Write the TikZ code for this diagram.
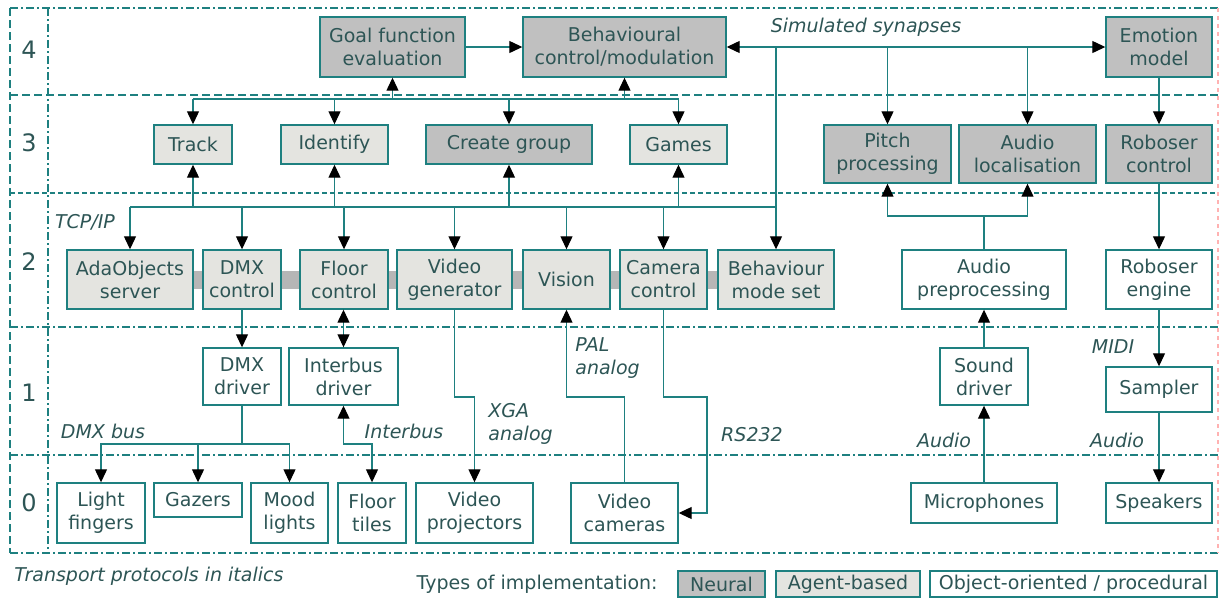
\documentclass[tikz,border=0pt]{standalone}
\usepackage{fontspec}
\setmainfont{DejaVu Sans}
\usepackage{tikz}
\usetikzlibrary{arrows.meta, positioning, backgrounds}
\usepackage{xcolor}
\definecolor{linecol}{RGB}{30,128,128}
\definecolor{textcol}{RGB}{45,85,85}
\definecolor{neuralfill}{RGB}{192,192,192}
\definecolor{agentfill}{RGB}{228,228,224}
\definecolor{busfill}{RGB}{182,182,182}
\tikzset{%
	every box/.style={
		draw=linecol,
		line width=0.7pt,
		align=center,
		inner sep=1pt,
		text=textcol,
		font=\fontsize{9.5}{11.5}\selectfont
	},
	neural box/.style={every box, fill=neuralfill},
	agent box/.style={every box, fill=agentfill},
	object box/.style={every box, fill=white},
	boxsize/.style 2 args={minimum width=#1*0.5pt, minimum height=#2*0.5pt},
	link/.style={draw=linecol, line width=0.6pt},
	to box/.style={link, -{Triangle[length=6.5pt,width=6pt,color=black]}},
	both boxes/.style={link, {Triangle[length=6.5pt,width=6pt,color=black]}-{Triangle[length=6.5pt,width=6pt,color=black]}},
	bus/.style={draw=busfill, line width=9pt},
	protocol/.style={text=textcol, font=\fontsize{9.5}{11.5}\selectfont\itshape, align=left, inner sep=1pt},
	plain text/.style={text=textcol, font=\fontsize{9.5}{11.5}\selectfont, inner sep=1pt},
	level/.style={text=textcol, font=\fontsize{12}{14}\selectfont},
	frame line/.style={draw=linecol, line width=0.6pt, dash pattern=on 4pt off 1.5pt on 1pt off 1.5pt},
	level line/.style={draw=linecol, line width=0.6pt, dash pattern=on 4pt off 2pt},
	fine line/.style={draw=linecol, line width=0.6pt, dash pattern=on 2.5pt off 1.5pt},
}

\begin{document}
\begin{tikzpicture}[x=0.5pt, y=-0.5pt]
	\useasboundingbox (0,0) rectangle (1221,600);
	
	% Draw the frame and the levels
	\draw[frame line] (10,8) -- (1218,8);
	\draw[frame line] (10,553) -- (1218,553);
	\draw[level line] (10,8) -- (10,553);
	\draw[draw=red!30, line width=0.6pt, dash pattern=on 2pt off 2pt] (1218,8) -- (1218,553);
	\draw[frame line] (48,8) -- (48,553);
	\draw[level line] (10,95) -- (1218,95);
	\draw[fine line] (10,193) -- (1218,193);
	\draw[frame line] (10,327) -- (1218,327);
	\draw[frame line] (10,455) -- (1218,455);
	\foreach \lv/\y in {4/50,3/143,2/262,1/393,0/503}
		\node[level] (lev\lv) at (29,\y) {\lv};
	
	% Level 4
	\node[neural box, boxsize={145}{60}] (goal) at (392.5,47) {Goal function\\evaluation};
	\node[neural box, boxsize={203}{60}] (behav) at (624.5,47) {Behavioural\\control/modulation};
	\node[neural box, boxsize={106}{60}] (emotion) at (1159,47) {Emotion\\model};
	
	% Level 3
	\node[agent box, boxsize={78}{39}] (track) at (193,144.5) {Track};
	\node[agent box, boxsize={107}{39}] (identify) at (334.5,144.5) {Identify};
	\node[neural box, boxsize={166}{39}] (cgroup) at (509,144.5) {Create group};
	\node[agent box, boxsize={97}{39}] (games) at (678.5,144.5) {Games};
	\node[neural box, boxsize={127}{58}] (pitch) at (887.5,154) {Pitch\\processing};
	\node[neural box, boxsize={137}{58}] (audioloc) at (1027.5,154) {Audio\\localisation};
	\node[neural box, boxsize={106}{58}] (robctl) at (1159,154) {Roboser\\control};
	
	% Level 2
	\node[agent box, boxsize={126}{59}] (ada) at (130,279.5) {AdaObjects\\server};
	\node[agent box, boxsize={78}{59}] (dmxctl) at (242,279.5) {DMX\\control};
	\node[agent box, boxsize={88}{59}] (floorctl) at (344,279.5) {Floor\\control};
	\node[agent box, boxsize={115}{59}] (videogen) at (454.5,279.5) {Video\\generator};
	\node[agent box, boxsize={87}{59}] (vision) at (566.5,279.5) {Vision};
	\node[agent box, boxsize={87}{59}] (camctl) at (663.5,279.5) {Camera\\control};
	\node[agent box, boxsize={116}{59}] (bmode) at (776,279.5) {Behaviour\\mode set};
	\node[object box, boxsize={164}{59}] (audiopre) at (984,279.5) {Audio\\preprocessing};
	\node[object box, boxsize={106}{59}] (robeng) at (1159,279.5) {Roboser\\engine};
	\begin{scope}[on background layer]
		\draw[bus] (ada) -- (bmode);
	\end{scope}
	
	% Level 1
	\node[object box, boxsize={78}{57}] (dmxdrv) at (242,376.5) {DMX\\driver};
	\node[object box, boxsize={109}{57}] (ibdrv) at (343.5,376.5) {Interbus\\driver};
	\node[object box, boxsize={88}{57}] (sounddrv) at (984,376.5) {Sound\\driver};
	\node[object box, boxsize={106}{45}] (sampler) at (1159,389.5) {Sampler};
	
	% Level 0
	\node[object box, boxsize={88}{60}] (lfingers) at (101,513) {Light\\fingers};
	\node[object box, boxsize={88}{34}] (gazers) at (198,500) {Gazers};
	\node[object box, boxsize={77}{60}] (mood) at (289.5,513) {Mood\\lights};
	\node[object box, boxsize={68}{60}] (ftiles) at (372,513) {Floor\\tiles};
	\node[object box, boxsize={117}{60}] (vproj) at (474.5,513) {Video\\projectors};
	\node[object box, boxsize={107}{60}] (vcam) at (624.5,513) {Video\\cameras};
	\node[object box, boxsize={146}{40}] (mics) at (984,503) {Microphones};
	\node[object box, boxsize={106}{40}] (speakers) at (1159,503) {Speakers};
	
	% Simulated synapses
	\draw[to box] (goal) -- (behav);
	\draw[both boxes] (behav) -- (emotion);
	\coordinate (syn) at (776,47);
	\draw[to box] (syn) -- (bmode);
	\draw[to box] (pitch |- syn) -- (pitch);
	\draw[to box] (audioloc |- syn) -- (audioloc);
	\draw[to box] (emotion) -- (robctl);
	
	% Between level 3 and level 4
	\coordinate (bus3) at (0,99);
	\draw[link] (track |- bus3) -- (games |- bus3);
	\foreach \n in {track,identify,cgroup,games}
		\draw[to box] (\n |- bus3) -- (\n);
	\draw[to box] (goal |- bus3) -- (goal);
	\draw[to box] (behav |- bus3) -- (behav);
	
	% TCP/IP
	\coordinate (bus2) at (0,207);
	\draw[link] (ada |- bus2) -- (bmode |- bus2);
	\foreach \n in {track,identify,cgroup,games}
		\draw[to box] (\n |- bus2) -- (\n);
	\foreach \n in {ada,dmxctl,floorctl,videogen,vision,camctl}
		\draw[to box] (\n |- bus2) -- (\n);
	
	% Audio side
	\coordinate (bus2a) at (0,216);
	\draw[to box] (audiopre) -- (audiopre |- bus2a) -| (pitch);
	\draw[to box] (audiopre |- bus2a) -| (audioloc);
	\draw[to box] (robctl) -- (robeng);
	\draw[to box] (sounddrv) -- (audiopre);
	\draw[to box] (robeng) -- (sampler);
	\draw[to box] (mics) -- (sounddrv);
	\draw[to box] (sampler) -- (speakers);
	
	% Drivers and devices
	\draw[to box] (dmxctl) -- (dmxdrv);
	\draw[both boxes] (ibdrv |- floorctl.south) -- (ibdrv);
	\coordinate (bus0) at (0,444);
	\draw[link] (dmxdrv) -- (dmxdrv |- bus0);
	\draw[to box] (dmxdrv |- bus0) -| (lfingers);
	\draw[to box] (dmxdrv |- bus0) -| (mood);
	\draw[to box] (gazers |- bus0) -- (gazers);
	\draw[both boxes] (ibdrv) -- (ibdrv |- bus0) -| (ftiles);
	\coordinate (vid) at (0,397);
	\coordinate (rs) at (707,0);
	\draw[to box] (videogen) -- (videogen |- vid) -| (vproj);
	\draw[to box] (vcam) -- (vcam |- vid) -| (vision);
	\draw[to box] (camctl) -- (camctl |- vid) -| (rs |- vcam) -- (vcam);
	
	% Transport protocols
	\node[protocol] (synlabel) at (866,27) {Simulated synapses};
	\node[protocol] (tcpip) at (85,222) {TCP/IP};
	\node[protocol] (midi) at (1113,347) {MIDI};
	\node[protocol] (dmxbus) at (103,431) {DMX bus};
	\node[protocol] (interbus) at (404,431) {Interbus};
	\node[protocol, anchor=west] (xga) at (486,424) {XGA\\analog};
	\node[protocol, anchor=west] (pal) at (573,358) {PAL\\analog};
	\node[protocol] (rs232) at (752,435) {RS232};
	\node[protocol] (micaudio) at (944,440) {Audio};
	\node[protocol] (spkaudio) at (1117,440) {Audio};
	
	% Legend
	\node[protocol, anchor=west] (transport) at (12,576) {Transport protocols in italics};
	\node[plain text, anchor=east] (types) at (660,584) {Types of implementation:};
	\node[neural box, boxsize={87}{26}] (legneural) at (721.5,584) {Neural};
	\node[agent box, boxsize={144}{26}] (legagent) at (848,584) {Agent-based};
	\node[object box, boxsize={287}{26}] (legobject) at (1073.5,584) {Object-oriented / procedural};
\end{tikzpicture}
\end{document}
